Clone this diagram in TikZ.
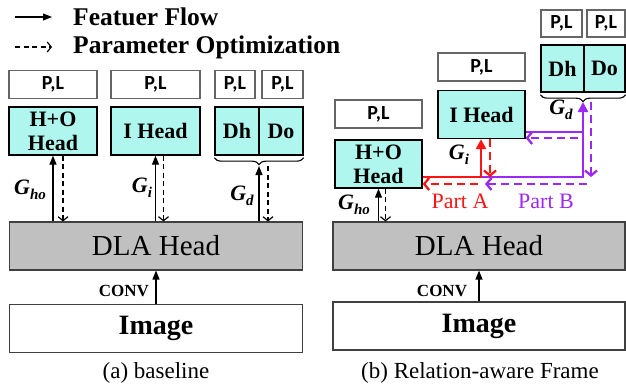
\documentclass[tikz,border=0pt]{standalone}
\usepackage{fontspec}
\setmainfont{Liberation Serif}
\newfontfamily\plfont{Carlito}
\usepackage{tikz}
\usetikzlibrary{decorations.pathreplacing,arrows.meta}

\definecolor{headcyan}{RGB}{175,247,238}
\definecolor{dlagray}{RGB}{192,192,192}
\definecolor{partred}{RGB}{255,20,20}
\definecolor{partpurple}{RGB}{155,40,245}

% gradient name with a lowered subscript
\newcommand{\gname}[1]{G\raisebox{-5pt}{\fontsize{15}{15}\selectfont #1}}

\begin{document}
\begin{tikzpicture}[
                    x=1pt, y=-1pt,
                    pl style/.style={
                        draw=black!60,
                        line width=1.1pt,
                        fill=white,
                        inner sep=0pt,
                        minimum height=28pt,
                        font=\plfont\bfseries\fontsize{20}{20}\selectfont
                    },
                    head style/.style={
                        draw,
                        line width=1.3pt,
                        fill=headcyan,
                        inner sep=0pt,
                        minimum height=48pt,
                        align=center,
                        font=\bfseries\fontsize{22}{24}\selectfont
                    },
                    base style/.style={
                        draw=black!75,
                        line width=1.1pt,
                        inner sep=0pt,
                        minimum width=293pt,
                        minimum height=48pt
                    },
                    dla style/.style={base style, fill=dlagray, font=\fontsize{29}{29}\selectfont},
                    image style/.style={base style, fill=white, font=\bfseries\fontsize{28}{28}\selectfont},
                    grad label/.style={inner sep=0pt, font=\bfseries\itshape\fontsize{22}{22}\selectfont},
                    flow/.style={draw, line width=1.2pt, -{Triangle[length=9pt,width=7pt]}},
                    opt/.style={draw, line width=1.2pt, dash pattern=on 5pt off 3.5pt,
                        -{Straight Barb[length=4pt,width=10pt]}},
                    part line/.style={draw, line width=2.3pt},
                    part flow/.style={part line, -{Triangle[length=10pt,width=10pt]}},
                    part opt/.style={part line, dash pattern=on 8pt off 5pt,
                        -{Straight Barb[length=5pt,width=12pt]}},
                    hbrace/.style={draw, line width=1.1pt, decorate,
                        decoration={brace, mirror, amplitude=7pt}}
                ]
    \useasboundingbox (0,0) rectangle (626,386);

    % legend
    \coordinate (lg1) at (15,17);
    \coordinate (lg2) at (15,47);
    \node[anchor=west, inner sep=0pt, font=\bfseries\fontsize{25.5}{25.5}\selectfont] (lgflow) at (73,17) {Featuer Flow};
    \node[anchor=west, inner sep=0pt, font=\bfseries\fontsize{25.5}{25.5}\selectfont] (lgopt) at (73,47) {Parameter Optimization};
    \draw[flow] (lg1) -- ++(37,0);
    \draw[opt] (lg2) -- ++(37,0);

    % (a) baseline
    \node[pl style, minimum width=88pt] (pla) at (53,84.5) {P,L};
    \node[pl style, minimum width=89pt] (plb) at (155.5,84.5) {P,L};
    \node[pl style, minimum width=40pt] (plc) at (235,84.5) {P,L};
    \node[pl style, minimum width=41pt] (pld) at (282.5,84.5) {P,L};
    \node[head style, minimum width=88pt] (hoa) at (53,131) {H+O\\Head};
    \node[head style, minimum width=89pt] (iha) at (155.5,131) {I Head};
    \node[head style, minimum width=44pt] (dha) at (237,131) {Dh};
    \node[head style, minimum width=44pt] (doa) at (281,131) {Do};
    \draw[hbrace] ([yshift=-2pt]dha.south west) -- ([yshift=-2pt]doa.south east);
    \coordinate (gda) at (259,166);

    \node[dla style] (dlaa) at (156,246) {DLA Head};
    \node[image style] (imga) at (156,328.5) {Image};
    \node[font=\fontsize{23}{23}\selectfont] (capa) at (156,373) {(a) baseline};

    \draw[flow] (dlaa.north -| hoa.south) -- (hoa.south);
    \draw[opt] ([xshift=10pt]hoa.south) -- ([xshift=10pt]dlaa.north -| hoa.south);
    \draw[flow] (dlaa.north -| iha.south) -- (iha.south);
    \draw[opt] ([xshift=8pt]iha.south) -- ([xshift=8pt]dlaa.north -| iha.south);
    \draw[flow] (dlaa.north -| gda) -- (gda);
    \draw[opt] ([xshift=9pt]gda) -- ([xshift=9pt]dlaa.north -| gda);
    \draw[flow] (imga.north) -- (dlaa.south);

    \node[grad label] (gho1) at (30,190) {\gname{ho}};
    \node[grad label] (gi1) at (142,188) {\gname{i}};
    \node[grad label] (gd1) at (242,196) {\gname{d}};
    \node[inner sep=0pt, font=\bfseries\fontsize{17}{17}\selectfont] (conva) at (124,291) {CONV};

    % (b) relation-aware frame
    \node[pl style, minimum width=87pt] (plhob) at (378.5,114) {P,L};
    \node[head style, minimum width=87pt] (hob) at (378.5,164) {H+O\\Head};
    \node[pl style, minimum width=87pt] (plib) at (481.5,67) {P,L};
    \node[head style, minimum width=87pt] (ihb) at (481.5,114.5) {I Head};
    \node[pl style, minimum width=41pt, minimum height=27pt] (pldhb) at (561.5,23.5) {P,L};
    \node[pl style, minimum width=38pt, minimum height=27pt] (pldob) at (606,23.5) {P,L};
    \node[head style, minimum width=43pt, minimum height=47pt] (dhb) at (562.5,68.5) {Dh};
    \node[head style, minimum width=41pt, minimum height=47pt] (dob) at (604.5,68.5) {Do};
    \draw[hbrace] ([yshift=-2pt]dhb.south west) -- ([yshift=-2pt]dob.south east);

    \node[dla style, minimum width=292pt] (dlab) at (479,246) {DLA Head};
    \node[image style, minimum width=292pt] (imgb) at (479,326) {Image};
    \node[font=\fontsize{23}{23}\selectfont] (capb) at (480,373) {(b) Relation-aware Frame};

    \draw[flow] (dlab.north -| hob.south) -- (hob.south);
    \draw[opt] ([xshift=7pt]hob.south) -- ([xshift=7pt]dlab.north -| hob.south);
    \draw[flow] (imgb.north) -- (dlab.south);

    % part A / part B routes
    \coordinate (aj) at (481,177);
    \coordinate (bj) at (583,177);
    \coordinate (bm) at (583,132);
    \coordinate (gdb) at (583,102);
    \draw[part line, partpurple] (ihb.east |- bm) -- (bm);
    \draw[part flow, partpurple] (aj) -- (bj) -- (gdb);
    \draw[part flow, partred] (hob.east |- aj) -- (aj) -- (ihb.south -| aj);
    \draw[part opt, partred] ([xshift=9pt]ihb.south -| aj) -- ([xshift=9pt]aj);
    \draw[part opt, partred] (478,184) -- (hob.east |- 0,184);
    \draw[part opt, partpurple] ([xshift=8pt]gdb) -- ([xshift=8pt]bj);
    \draw[part opt, partpurple] (587,184) -- (485,184);
    \draw[part opt, partpurple] (578,138) -- (ihb.east |- 0,138);

    \node[grad label] (gho2) at (354,205) {\gname{ho}};
    \node[grad label] (gi2) at (459,155) {\gname{i}};
    \node[grad label] (gd2) at (561,110) {\gname{d}};
    \node[inner sep=0pt, partred, font=\fontsize{22}{22}\selectfont] (parta) at (460,201) {Part A};
    \node[inner sep=0pt, partpurple, font=\fontsize{22}{22}\selectfont] (partb) at (546,201) {Part B};
    \node[inner sep=0pt, font=\bfseries\fontsize{17}{17}\selectfont] (convb) at (442,291) {CONV};
\end{tikzpicture}
\end{document}
